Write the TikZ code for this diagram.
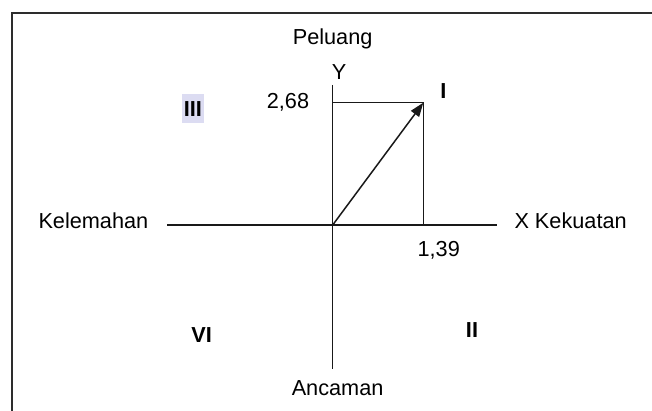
\documentclass[tikz,border=0pt]{standalone}
\usepackage{fontspec}
\setmainfont{Liberation Sans}
\usetikzlibrary{arrows.meta}
\definecolor{hl}{RGB}{220,220,242}
\definecolor{frame}{RGB}{45,45,45}
\begin{document}
\begin{tikzpicture}[x=1pt,y=-1pt,
  lbl/.style={anchor=base,inner sep=0pt,font=\fontsize{21.7}{26}\selectfont},
  quad/.style={lbl,font=\fontsize{21.7}{26}\selectfont\bfseries},
  axis/.style={line width=1.5pt,draw=black!90},
  framel/.style={line width=2pt,draw=frame}]
\useasboundingbox (0,0) rectangle (652,411);
% frame (top and left sides visible)
\coordinate (F1) at (11.6,415);
\coordinate (F2) at (11.6,12.7);
\coordinate (F3) at (656,12.7);
\draw[framel] (F1) -- (F2) -- (F3);
% axes
\coordinate (O) at (332.7,225);
\coordinate (Xl) at (167,225);
\coordinate (Xr) at (497,225);
\coordinate (Yt) at (332.7,85);
\coordinate (Yb) at (332.7,369.3);
\coordinate (Py) at (332.7,102.7);
\coordinate (P) at (423.3,102.7);
\coordinate (Px) at (423.3,225);
\draw[axis] (Xl) -- (Xr);
\draw[axis] (Yt) -- (Yb);
\draw[axis] (Py) -- (P) -- (Px);
\draw[axis,-{Triangle[length=14pt,width=10pt]}] (O) -- (P);
% labels
\node[lbl] (peluang) at (332.6,44.3) {Peluang};
\node[lbl] (ylab) at (339,80) {Y};
\node[lbl] (v268) at (288,108.3) {2,68};
\node[lbl,anchor=base west] (kel) at (38.3,228.3) {Kelemahan};
\node[lbl,anchor=base west] (kek) at (514.3,228.3) {X Kekuatan};
\node[lbl] (v139) at (438.7,256) {1,39};
\node[lbl] (anc) at (337.6,395) {Ancaman};
% quadrant numerals
\node[quad] (qI) at (443.3,99) {I};
\node[quad,anchor=center,fill=hl,minimum width=22pt,minimum height=28.4pt,text height=15.5pt,text depth=0pt] (qIII) at (192.8,108.5) {III};
\node[quad] (qVI) at (201.7,342.7) {VI};
\node[quad] (qII) at (472,337.7) {II};
\end{tikzpicture}
\end{document}
